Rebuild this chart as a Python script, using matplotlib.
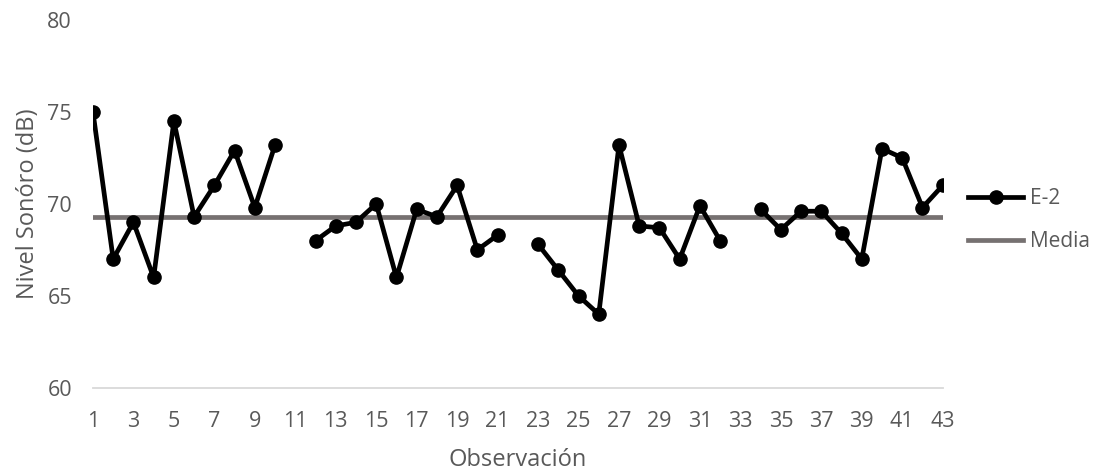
import numpy as np
import matplotlib.pyplot as plt

plt.rcParams['font.family'] = ['Open Sans', 'DejaVu Sans']

# observations 1..43, gaps at 11, 22, 33
obs = np.arange(1, 44)
nivel = [75.0, 67.0, 69.0, 66.0, 74.5, 69.3, 71.0, 72.9, 69.8, 73.2,
         np.nan, 68.0, 68.8, 69.0, 70.0, 66.0, 69.7, 69.3, 71.0, 67.5,
         68.3, np.nan, 67.8, 66.4, 65.0, 64.0, 73.2, 68.8, 68.7, 67.0,
         69.9, 68.0, np.nan, 69.7, 68.6, 69.6, 69.6, 68.4, 67.0, 73.0,
         72.5, 69.8, 71.0]
media = 69.3
xticks = list(range(1, 44, 2))
yticks = [60, 65, 70, 75, 80]

grey = '#595959'

fig = plt.figure(figsize=(11, 4.73), dpi=100)
ax = fig.add_axes([0.0845, 0.18, 0.7725, 0.778])

ax.plot(obs, [media] * len(obs), color='#767171', lw=3.4, label='Media', zorder=2)
ax.plot(obs, nivel, color='black', lw=3.4, marker='o', markersize=9.5,
        label='E-2', zorder=3)

ax.set_xlim(1, 43)
ax.set_ylim(60, 80)
ax.set_xticks(xticks)
ax.set_yticks(yticks)
ax.tick_params(length=0, labelsize=15.5, colors=grey)
ax.tick_params(axis='y', pad=15)
ax.tick_params(axis='x', pad=17)
for s in ['top', 'right', 'left']:
    ax.spines[s].set_visible(False)
ax.spines['bottom'].set_color('#d9d9d9')
ax.spines['bottom'].set_linewidth(1.3)

ax.set_xlabel('Observación', fontsize=17, color=grey, va='center')
ax.set_ylabel('Nivel Sonóro (dB)', fontsize=17, color=grey, va='center')
ax.xaxis.set_label_coords(0.5, -0.196)
ax.yaxis.set_label_coords(-0.0765, 0.5)

h, l = ax.get_legend_handles_labels()
fig.legend(h[::-1], l[::-1], loc='center left', bbox_to_anchor=(0.88, 0.535),
           frameon=False, fontsize=15, labelcolor=grey,
           handlelength=2.65, handletextpad=0.33, labelspacing=1.05,
           borderaxespad=0, borderpad=0)

fig.savefig('out.png', dpi=100)
